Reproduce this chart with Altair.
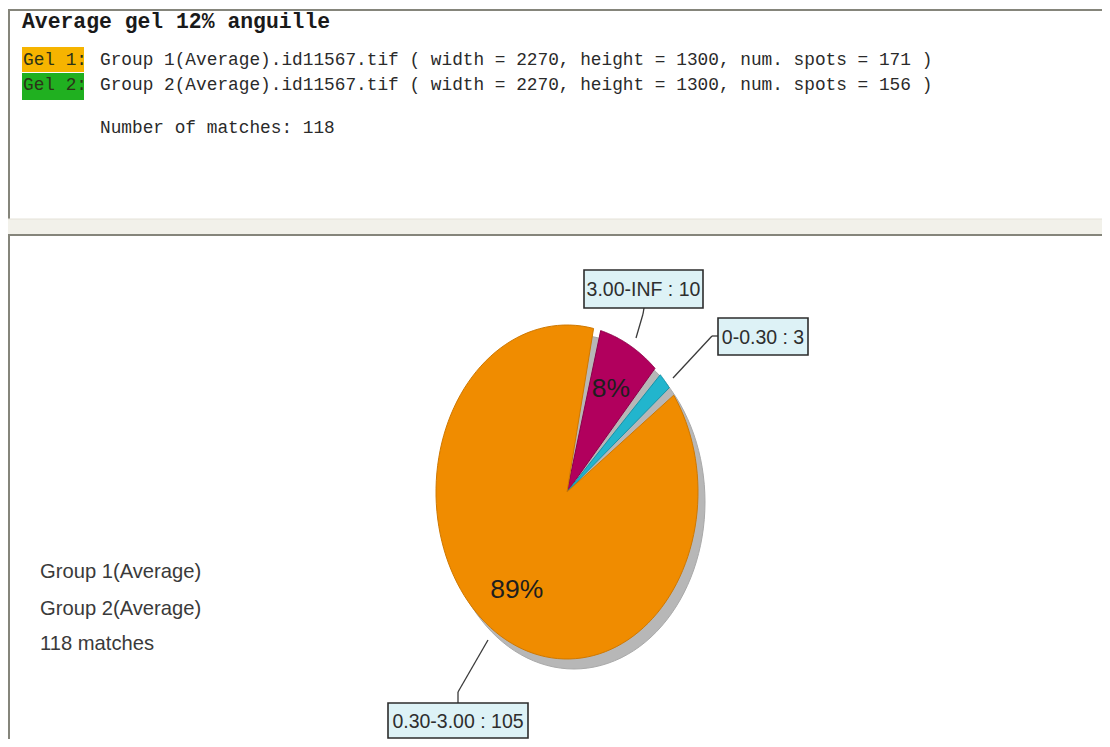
import altair as alt
import pandas as pd

# ---------------- data ----------------
TITLE = "Average gel 12% anguille"
GEL_TAGS = ["Gel 1:", "Gel 2:"]
GEL_FILES = ["Group 1(Average).id11567.tif", "Group 2(Average).id11567.tif"]
GEL_WIDTHS = [2270, 2270]
GEL_HEIGHTS = [1300, 1300]
GEL_SPOTS = [171, 156]
MATCHES = 118
GROUP_NAMES = ["Group 1(Average)", "Group 2(Average)"]

CATEGORIES = ["3.00-INF", "0-0.30", "0.30-3.00"]
COUNTS = [10, 3, 105]

# ---------------- style / layout ----------------
SLICE_FILL = ["#b1005d", "#22b5cd", "#f08c00"]
SLICE_EDGE = ["#8c0049", "#1693a8", "#cf7800"]
TAG_FILL = ["#f6b400", "#20b020"]
MONO = "Liberation Mono, Courier New, monospace"
SANS = "Liberation Sans, Arial, sans-serif"
INK = "#2a2a2a"
FRAME = "#85857b"

OFF = 8                      # page margin
W, H = 1094, 731             # drawing area
CX, CY, RX, RY = 567, 492, 131, 167   # pie ellipse
START = 13.3                 # first slice start angle (deg, clockwise from 12 o'clock)
GAP = 3.2                    # angular gap between slices (deg)
SDX, SDY = 7, 10             # shadow offset
LR = 0.7                     # radial position of percent labels
N = 120

CALLOUT_LAYOUT = {
    "3.00-INF": {"box": (584, 270, 703, 308), "path": [(644, 308), (643, 314), (636, 338)]},
    "0-0.30": {"box": (718, 318, 808, 355), "path": [(718, 336), (712, 336), (673, 378)]},
    "0.30-3.00": {"box": (388, 703, 528, 738), "path": [(458, 703), (458, 692), (488, 640)]},
}

XS = alt.Scale(domain=[OFF, OFF + W], nice=False, zero=False)
YS = alt.Scale(domain=[OFF, OFF + H], nice=False, zero=False, reverse=True)
DUMMY = alt.Data(values=[{"k": 0}])


def px(v):
    return v - OFF


def text_layer(s, X, Y, size, font, color=INK, align="left", baseline="alphabetic", weight="normal"):
    return alt.Chart(DUMMY).mark_text(
        text=s, font=font, fontSize=size, color=color, align=align,
        baseline=baseline, fontWeight=weight,
    ).encode(x=alt.value(px(X)), y=alt.value(px(Y)))


def rect_layer(x0, y0, x1, y1, fill, stroke=None, sw=0):
    kw = {"fill": fill}
    if stroke:
        kw["stroke"] = stroke
        kw["strokeWidth"] = sw
    return alt.Chart(DUMMY).mark_rect(**kw).encode(
        x=alt.value(px(x0)), x2=alt.value(px(x1)), y=alt.value(px(y0)), y2=alt.value(px(y1))
    )


def rule_layer(x0, y0, x1, y1, color, width):
    return alt.Chart(DUMMY).mark_rule(color=color, strokeWidth=width).encode(
        x=alt.value(px(x0)), x2=alt.value(px(x1)), y=alt.value(px(y0)), y2=alt.value(px(y1))
    )


layers = []

# ---------------- window frame ----------------
layers.append(rect_layer(0, 219, OFF + W, 234, "#f2f1ea"))
layers.append(rule_layer(OFF, 10, OFF + W, 10, FRAME, 2))
layers.append(rule_layer(9, 10, 9, 219, FRAME, 2))
layers.append(rule_layer(OFF, 219, OFF + W, 219, "#e4e2d8", 1))
layers.append(rule_layer(OFF, 235, OFF + W, 235, FRAME, 2))
layers.append(rule_layer(9, 235, 9, OFF + H, FRAME, 2))

# ---------------- header text ----------------
layers.append(text_layer(TITLE, 22, 28, 21.4, MONO, color="#1a1a1a", weight="bold"))
tag_boxes = [(22, 47, 84, 72), (22, 73, 84, 100)]
baselines = [65, 90]
for i in range(len(GEL_TAGS)):
    x0, y0, x1, y1 = tag_boxes[i]
    layers.append(rect_layer(x0, y0, x1, y1, TAG_FILL[i]))
    layers.append(text_layer(GEL_TAGS[i], 23, baselines[i], 17.8, MONO, color="#2b3318"))
    line = (f"{GEL_FILES[i]} ( width = {GEL_WIDTHS[i]}, height = {GEL_HEIGHTS[i]}, "
            f"num. spots = {GEL_SPOTS[i]} )")
    layers.append(text_layer(line, 100, baselines[i], 17.8, MONO))
layers.append(text_layer(f"Number of matches: {MATCHES}", 100, 133, 17.8, MONO))

# ---------------- left caption ----------------
caption = GROUP_NAMES + [f"{MATCHES} matches"]
for i, s in enumerate(caption):
    layers.append(text_layer(s, 40, [578, 615, 650][i], 20.2, SANS, color="#3a3a3a"))

# ---------------- pie ----------------
pie_df = pd.DataFrame({"category": CATEGORIES, "count": COUNTS,
                       "rank": list(range(len(CATEGORIES)))})


def pie_base():
    return (
        alt.Chart(pie_df)
        .transform_window(cum="sum(count)", sort=[alt.SortField("rank")], frame=[None, 0])
        .transform_joinaggregate(total="sum(count)")
        .transform_calculate(
            a0=f"{START} + 360 * (datum.cum - datum.count) / datum.total",
            a1=f"{START} + 360 * datum.cum / datum.total",
        )
    )


shadow = (
    alt.Chart(alt.Data(values=[{"shape": "shadow"}]))
    .transform_calculate(steps=f"sequence(0, {N + 1})")
    .transform_flatten(["steps"], as_=["i"])
    .transform_calculate(
        t=f"datum.i / {N} * 2 * PI",
        px=f"{CX + SDX} + {RX} * sin(datum.t)",
        py=f"{CY + SDY} - {RY} * cos(datum.t)",
    )
    .mark_line(strokeWidth=1)
    .encode(
        x=alt.X("px:Q", scale=XS, axis=None),
        y=alt.Y("py:Q", scale=YS, axis=None),
        order="i:Q",
        fill=alt.value("#b7b7b7"),
        stroke=alt.value("#a9a9a9"),
    )
)
layers.append(shadow)

slices = (
    pie_base()
    .transform_calculate(
        b0=f"datum.a0 + {GAP / 2}",
        b1=f"datum.a1 - {GAP / 2}",
        steps=f"sequence(0, {N + 3})",
    )
    .transform_flatten(["steps"], as_=["i"])
    .transform_calculate(
        t=f"(datum.b0 + (datum.b1 - datum.b0) * clamp(datum.i - 1, 0, {N}) / {N}) * PI / 180",
        px=f"(datum.i == 0 || datum.i == {N + 2}) ? {CX} : {CX} + {RX} * sin(datum.t)",
        py=f"(datum.i == 0 || datum.i == {N + 2}) ? {CY} : {CY} - {RY} * cos(datum.t)",
    )
    .mark_line(strokeWidth=1, strokeJoin="round")
    .encode(
        x=alt.X("px:Q", scale=XS, axis=None),
        y=alt.Y("py:Q", scale=YS, axis=None),
        detail="category:N",
        order="i:Q",
        fill=alt.Fill("category:N", scale=alt.Scale(domain=CATEGORIES, range=SLICE_FILL), legend=None),
        stroke=alt.Stroke("category:N", scale=alt.Scale(domain=CATEGORIES, range=SLICE_EDGE), legend=None),
    )
)
layers.append(slices)

pct = (
    pie_base()
    .transform_calculate(
        mid="(datum.a0 + datum.a1) / 2 * PI / 180",
        share="datum.count / datum.total * 100",
        label="format(datum.count / datum.total * 100, '.0f') + '%'",
        px=f"{CX} + {LR} * {RX} * sin(datum.mid)",
        py=f"{CY} - {LR} * {RY} * cos(datum.mid)",
    )
    .transform_filter("datum.share >= 5")
    .mark_text(font=SANS, fontSize=26.5, color="#1e1e1e", baseline="middle")
    .encode(
        x=alt.X("px:Q", scale=XS, axis=None),
        y=alt.Y("py:Q", scale=YS, axis=None),
        text="label:N",
    )
)
layers.append(pct)

# ---------------- callouts ----------------
for cat, cnt in zip(CATEGORIES, COUNTS):
    lay = CALLOUT_LAYOUT[cat]
    pts = lay["path"]
    for (xa, ya), (xb, yb) in zip(pts[:-1], pts[1:]):
        layers.append(rule_layer(xa, ya, xb, yb, "#3a3a3a", 1.3))
    x0, y0, x1, y1 = lay["box"]
    layers.append(rect_layer(x0, y0, x1, y1, "#ddf2f6", stroke="#2c2c2c", sw=1.6))
    layers.append(text_layer(f"{cat} : {cnt}", (x0 + x1) / 2, (y0 + y1) / 2 + 1, 19.5, SANS,
                             color="#2e2e2e", align="center", baseline="middle"))

chart = (
    alt.layer(*layers)
    .properties(width=W, height=H, padding=0, background="white",
                autosize=alt.AutoSizeParams(type="none"))
    .configure_view(stroke=None)
)

chart.save("out.html", embed_options={"renderer": "svg", "actions": False})
